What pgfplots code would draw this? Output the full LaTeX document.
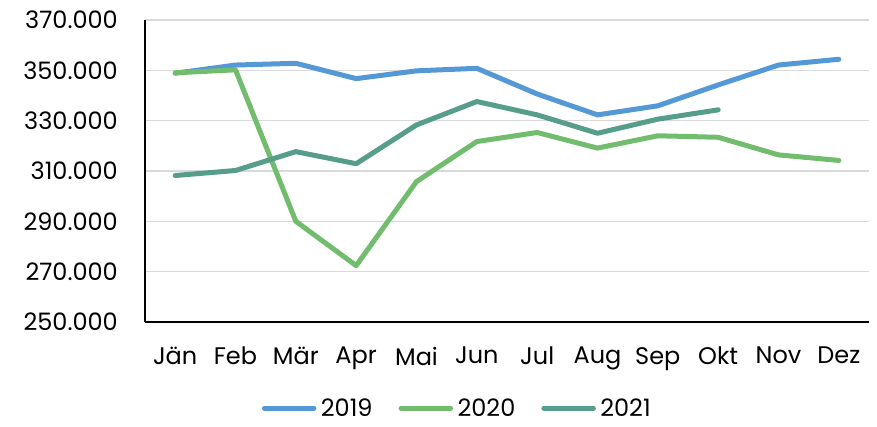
\documentclass[border=0pt]{standalone}
\usepackage{fontspec}
\setmainfont{Poppins}
\usepackage{pgfplots}
\pgfplotsset{compat=1.18}
\definecolor{c2019}{RGB}{84,153,214}
\definecolor{c2020}{RGB}{114,188,110}
\definecolor{c2021}{RGB}{86,157,138}
\definecolor{gridgray}{RGB}{217,217,217}

\begin{document}
\begin{tikzpicture}
\path[use as bounding box] (0,0) rectangle (877pt,426pt);
\begin{axis}[
  at={(145pt,104pt)}, anchor=south west,
  scale only axis,
  width=724pt, height=302pt,
  xmin=0.5, xmax=12.5,
  ymin=250000, ymax=370000,
  xtick={1,...,12},
  xticklabels={Jän,Feb,Mär,Apr,Mai,Jun,Jul,Aug,Sep,Okt,Nov,Dez},
  ytick={250000,270000,290000,310000,330000,350000,370000},
  scaled y ticks=false,
  /pgf/number format/.cd, fixed, 1000 sep={.}, assume math mode=true,
  /pgfplots/.cd,
  yticklabel={\pgfmathprintnumber[fixed,precision=0,1000 sep={.}]{\tick}},
  axis x line*=bottom, axis y line*=left,
  axis line style={black, line width=2pt},
  major tick length=0pt,
  ymajorgrids, xmajorgrids=false,
  major grid style={gridgray, line width=1.6pt},
  tick label style={font=\fontsize{24}{28}\selectfont, inner sep=0pt},
  yticklabel style={xshift=-27pt},
  xticklabel style={yshift=-25pt},
  legend style={at={(0.43,-0.285)}, anchor=center, draw=none, fill=none,
    inner sep=0pt, font=\fontsize{24}{28}\selectfont,
    nodes={inner sep=0pt},
    /tikz/every odd column/.append style={column sep=4.5pt},
    /tikz/every even column/.append style={column sep=26pt}},
  legend columns=3,
  legend image code/.code={\draw[#1, line cap=round] (2.5pt,0pt) -- (52pt,0pt);},
  every axis plot/.append style={line width=5pt, line cap=round, line join=round, mark=none},
]
\addplot[c2019] coordinates {
  (1,348850) (2,352100) (3,352800) (4,346700) (5,349800) (6,350800)
  (7,340600) (8,332300) (9,335900) (10,344200) (11,352100) (12,354400)
};
\addlegendentry{2019}
\addplot[c2020] coordinates {
  (1,349000) (2,350200) (3,290000) (4,272400) (5,305800) (6,321700)
  (7,325300) (8,319100) (9,324000) (10,323400) (11,316400) (12,314200)
};
\addlegendentry{2020}
\addplot[c2021] coordinates {
  (1,308200) (2,310200) (3,317700) (4,312900) (5,328300) (6,337600)
  (7,332300) (8,325000) (9,330600) (10,334300)
};
\addlegendentry{2021}
\end{axis}
\end{tikzpicture}
\end{document}
